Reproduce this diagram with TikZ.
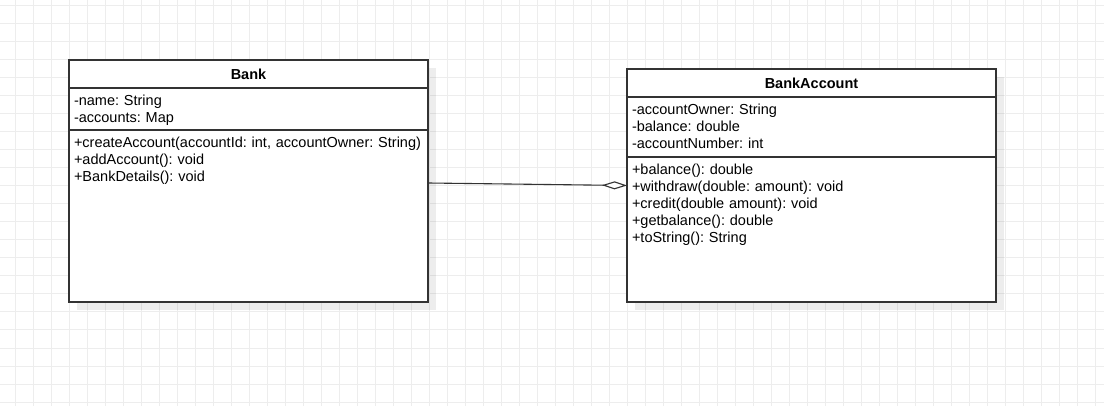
\documentclass[tikz,border=0pt]{standalone}
\usepackage{fontspec}
\setmainfont{Liberation Sans}
\frenchspacing
\usepackage{tikz}
\usetikzlibrary{arrows.meta,positioning}
\definecolor{gridgray}{HTML}{EDEDED}
\definecolor{linegray}{HTML}{333333}
\tikzset{
  gridline/.style={draw=gridgray,line width=1pt},
  dropshadow/.style={fill=black,opacity=.07},
  cell/.style={draw=linegray,line width=1.2pt,fill=white,anchor=north west,inner sep=0pt,outer sep=0pt,font=\fontsize{14.5}{16.8}\selectfont},
  classtitle/.style={cell,minimum height=28pt,font=\fontsize{14.5}{16.8}\selectfont\bfseries},
  members/.style={cell,align=left,inner xsep=5pt,text height=18pt},
  ops/.style={members,draw=none,fill=none},
  aggregation/.style={draw=linegray,line width=1.1pt,-{Diamond[fill=white,length=25pt,width=8pt]}}
}
\begin{document}
\begin{tikzpicture}[x=1pt,y=-1pt]
  \useasboundingbox (0,0) rectangle (1104,406);
  \fill[white] (0,0) rectangle (1104,406);
  \foreach \gx in {15,33,...,1095} \draw[gridline] (\gx,0) -- (\gx,406);
  \foreach \gy in {6,24,...,402} \draw[gridline] (0,\gy) -- (1104,\gy);
  \fill[dropshadow] (77,68) rectangle (436,310);
  \fill[dropshadow] (635,77) rectangle (1004,310);
  \node[cell,minimum width=359pt,minimum height=242pt] (bank) at (69,60) {};
  \node[classtitle,minimum width=359pt] (bankTitle) at (bank.north west) {Bank};
  \node[members,text width=349pt,text depth=24pt,below=0pt of bankTitle] (bankFields) {-name: String\\-accounts: Map};
  \node[ops,text width=349pt,below=0pt of bankFields] (bankMethods) {+createAccount(accountId: int, accountOwner: String)\\+addAccount(): void\\+BankDetails(): void};
  \node[cell,minimum width=369pt,minimum height=233pt] (account) at (627,69) {};
  \node[classtitle,minimum width=369pt] (accountTitle) at (account.north west) {BankAccount};
  \node[members,text width=359pt,text depth=42pt,below=0pt of accountTitle] (accountFields) {-accountOwner: String\\-balance: double\\-accountNumber: int};
  \node[ops,text width=359pt,below=0pt of accountFields] (accountMethods) {+balance(): double\\+withdraw(double: amount): void\\+credit(double amount): void\\+getbalance(): double\\+toString(): String};
  \draw[aggregation] ([yshift=-2pt]bank.east) -- (account.west);
\end{tikzpicture}
\end{document}
